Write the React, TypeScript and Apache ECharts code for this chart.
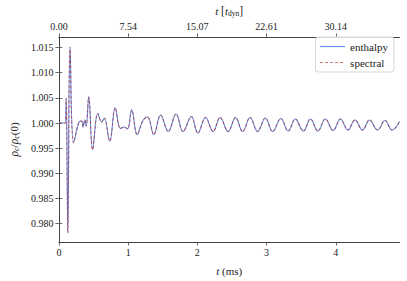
import React, { useEffect, useRef } from "react";
import * as echarts from "echarts";

const timeMs = [
  0, 0.09, 0.105, 0.129, 0.161, 0.213, 0.291, 0.329, 0.347, 0.375, 0.394, 0.431, 0.487, 0.562,
  0.618, 0.655, 0.734, 0.814, 0.888, 0.944, 0.99, 1.052, 1.13, 1.214, 1.28, 1.371, 1.469, 1.58,
  1.692, 1.793, 1.913, 2.007, 2.119, 2.227, 2.329, 2.445, 2.552, 2.654, 2.762, 2.87, 2.982,
  3.088, 3.206, 3.312, 3.415, 3.531, 3.634, 3.741, 3.849, 3.961, 4.067, 4.175, 4.277, 4.385,
  4.487, 4.604, 4.71, 4.814, 4.92,
];

const enthalpy = [
  1.0, 1.0, 1.0049, 0.9782, 1.0151, 0.9961, 1.0002, 1.0004, 0.9992, 1.0006, 0.9994, 1.0052,
  0.9947, 1.0019, 1.0002, 1.001, 0.9964, 1.003, 0.9989, 0.9992, 0.9988, 1.0026, 0.9977, 1.0005,
  1.0012, 0.9977, 1.0016, 0.9983, 1.0018, 0.9983, 1.0013, 0.998, 1.0011, 0.9983, 1.0011, 0.9983,
  1.0011, 0.9983, 1.0011, 0.9983, 1.001, 0.9983, 1.0009, 0.9984, 1.0008, 0.9984, 1.0008, 0.9984,
  1.0008, 0.9985, 1.0008, 0.9986, 1.0006, 0.9986, 1.0006, 0.9986, 1.0005, 0.9986, 1.0003,
];

const spectral = [
  1.0, 1.0, 1.0049, 0.9782, 1.0151, 0.9961, 1.0002, 1.0004, 0.9992, 1.0006, 0.9994, 1.0052,
  0.9947, 1.0019, 1.0002, 1.001, 0.9964, 1.003, 0.9989, 0.9992, 0.9988, 1.0026, 0.9977, 1.0005,
  1.0012, 0.9977, 1.0016, 0.9983, 1.0018, 0.9983, 1.0013, 0.998, 1.0011, 0.9983, 1.0011, 0.9983,
  1.0011, 0.9983, 1.0011, 0.9983, 1.001, 0.9983, 1.0009, 0.9984, 1.0008, 0.9984, 1.0008, 0.9984,
  1.0008, 0.9985, 1.0008, 0.9986, 1.0006, 0.9986, 1.0006, 0.9986, 1.0005, 0.9986, 1.0003,
];

const xTicks = [0, 1, 2, 3, 4];
const xTickLabels = ["0", "1", "2", "3", "4"];
const topTickLabels = ["0.00", "7.54", "15.07", "22.61", "30.14"];
const yTicks = [0.98, 0.985, 0.99, 0.995, 1.0, 1.005, 1.01, 1.015];
const yTickLabels = ["0.980", "0.985", "0.990", "0.995", "1.000", "1.005", "1.010", "1.015"];

const FONT = "'Liberation Serif', 'DejaVu Serif', serif";
const AX = "#444";
const TXT = "#222";

export default function App() {
  const ref = useRef<HTMLDivElement>(null);
  useEffect(() => {
    if (!ref.current) return;
    const chart = echarts.init(ref.current, null, { renderer: "svg" });
    const axisLine = { show: true, lineStyle: { color: AX, width: 1 } };
    const tick = { show: true, length: 3.5, lineStyle: { color: AX, width: 0.8 } };
    const labelStyle = { fontFamily: FONT, fontSize: 10, color: TXT };
    const xMin = 0;
    const xMax = 4.92;
    const yMin = 0.97637;
    const yMax = 1.0171;
    chart.setOption({
      animation: false,
      textStyle: { fontFamily: FONT },
      grid: { left: 47.5, right: 7.5, top: 30, bottom: 34.3, containLabel: false },
      xAxis: [
        {
          type: "value",
          position: "bottom",
          min: xMin,
          max: xMax,
          axisLine,
          axisTick: { ...tick, customValues: xTicks },
          splitLine: { show: false },
          axisLabel: {
            ...labelStyle,
            margin: 5,
            customValues: xTicks,
            formatter: (v: number) => xTickLabels[xTicks.indexOf(v)] ?? "",
          },
          name: "{i|t} {n|(ms)}",
          nameLocation: "middle",
          nameGap: 23,
          nameTextStyle: {
            fontFamily: FONT,
            fontSize: 11,
            color: TXT,
            rich: {
              i: { fontFamily: FONT, fontStyle: "italic", fontSize: 11, color: TXT },
              n: { fontFamily: FONT, fontSize: 11, color: TXT },
            },
          },
        },
        {
          type: "value",
          position: "top",
          min: xMin,
          max: xMax,
          axisLine,
          axisTick: { ...tick, customValues: xTicks },
          splitLine: { show: false },
          axisLabel: {
            ...labelStyle,
            margin: 5,
            customValues: xTicks,
            formatter: (v: number) => topTickLabels[xTicks.indexOf(v)] ?? "",
          },
          name: "{i|t} {n|[}{i|t}{s|dyn}{n|]}",
          nameLocation: "middle",
          nameGap: 16,
          nameTextStyle: {
            fontFamily: FONT,
            fontSize: 11,
            color: TXT,
            rich: {
              i: { fontFamily: FONT, fontStyle: "italic", fontSize: 11, color: TXT },
              n: { fontFamily: FONT, fontSize: 11.5, color: TXT },
              s: { fontFamily: FONT, fontSize: 7.5, color: TXT, verticalAlign: "bottom", padding: [4, 0, 0, 0] },
            },
          },
        },
      ],
      yAxis: [
        {
          type: "value",
          position: "left",
          min: yMin,
          max: yMax,
          axisLine,
          axisTick: { ...tick, customValues: yTicks },
          splitLine: { show: false },
          axisLabel: {
            ...labelStyle,
            margin: 5.5,
            customValues: yTicks,
            formatter: (v: number) => {
              const i = yTicks.findIndex((t) => Math.abs(t - v) < 1e-9);
              return i >= 0 ? yTickLabels[i] : "";
            },
          },
          name: "{i|ρ}{s|c}{n|/}{i|ρ}{s|c}{n|(0)}",
          nameLocation: "middle",
          nameGap: 33,
          nameRotate: 90,
          nameTextStyle: {
            fontFamily: FONT,
            fontSize: 11,
            color: TXT,
            rich: {
              i: { fontFamily: FONT, fontStyle: "italic", fontSize: 11.5, color: TXT },
              n: { fontFamily: FONT, fontSize: 11, color: TXT },
              s: { fontFamily: FONT, fontStyle: "italic", fontSize: 8, color: TXT, verticalAlign: "bottom", padding: [4, 0, 0, 0] },
            },
          },
        },
        {
          type: "value",
          position: "right",
          min: yMin,
          max: yMax,
          axisLine,
          axisTick: { ...tick, customValues: yTicks },
          splitLine: { show: false },
          axisLabel: { show: false },
        },
      ],
      legend: {
        right: 13,
        top: 37,
        orient: "vertical",
        itemWidth: 25,
        itemHeight: 10,
        itemGap: 5,
        padding: [4, 6, 4, 4],
        backgroundColor: "rgba(255,255,255,0.8)",
        borderColor: "#d6d6d6",
        borderWidth: 1,
        borderRadius: 3,
        itemStyle: { opacity: 0 },
        lineStyle: { width: 1.2 },
        textStyle: { fontFamily: FONT, fontSize: 11, color: TXT },
        data: ["enthalpy", "spectral"],
      },
      series: [
        {
          name: "enthalpy",
          type: "line",
          xAxisIndex: 0,
          yAxisIndex: 0,
          data: timeMs.map((t, i) => [t, enthalpy[i]]),
          symbol: "none",
          showSymbol: false,
          smooth: 0.4,
          color: "#6495ED",
          lineStyle: { color: "#6495ED", width: 1.1 },
        },
        {
          name: "spectral",
          type: "line",
          xAxisIndex: 0,
          yAxisIndex: 0,
          data: timeMs.map((t, i) => [t, spectral[i]]),
          symbol: "none",
          showSymbol: false,
          smooth: 0.4,
          color: "rgba(178,34,34,0.6)",
          lineStyle: { color: "rgba(178,34,34,0.6)", width: 1.1, type: [3, 2] },
        },
      ],
    });
    return () => chart.dispose();
  }, []);
  return (
    <div
      ref={ref}
      style={{ position: "absolute", left: 0, top: 0, width: 407, height: 281 }}
    />
  );
}
